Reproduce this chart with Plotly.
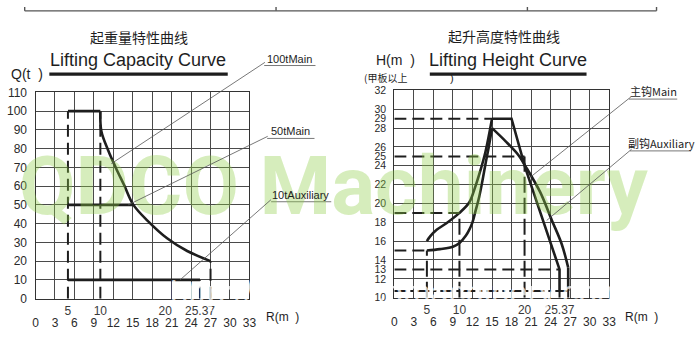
import plotly.graph_objects as go

W, H = 700, 344

# ---------------- data: lifting capacity (left panel) ----------------
R_TICKS = list(range(0, 34, 3))
R_MARKS = [5, 10, 20, 25.37]
R_MARK_TEXT = ["5", "10", "20", "25.37"]
Q_TICKS = list(range(0, 111, 10))

CAP100_FLAT_R = [5, 10]
CAP100_FLAT_Q = [100, 100]
CAP100_R = [10, 10.15, 11.2, 12.4, 13.7, 15.1, 17.3, 20.3, 23.4, 27]
CAP100_Q = [100, 89.4, 79.1, 69.7, 60.3, 50, 41.5, 32.2, 25.4, 20]
CAP50_R = [5, 15.1]
CAP50_Q = [50, 50]
CAP10_R = [5, 25.37]
CAP10_Q = [10, 10]

# vertical guide lines (radius, top load)
CAP_GUIDE_R = [5, 10, 25.37, 27]
CAP_GUIDE_Q = [100, 100, 10, 20]

# ---------------- data: lifting height (right panel) ----------------
H_GRID = list(range(10, 33, 2))
H_TICKS = [10, 12, 13, 14, 16, 18, 20, 22, 24, 25, 26, 28, 29, 30, 32]

AUX_RISE_R = [5, 5.5, 6.5, 8, 10, 11.5, 12.3, 13, 14, 15]
AUX_RISE_H = [16, 16.5, 17.2, 17.9, 19, 20.1, 21.5, 23, 25.5, 29]
AUX_FALL_R = [15, 18, 20.1, 21.2, 25.37, 25.37]
AUX_FALL_H = [29, 29, 23.8, 21.5, 13, 10.7]

MAIN_RISE_R = [5, 7, 9, 10, 11, 11.5, 12, 12.5, 13, 13.5, 14, 14.5, 15]
MAIN_RISE_H = [15, 15.15, 15.4, 15.8, 16.6, 17.2, 18, 19.3, 20.6, 22.3, 24.2, 26, 28]
MAIN_FALL_R = [15, 17.1, 19.1, 20.1, 22.4, 24.2, 25.7, 26.7]
MAIN_FALL_H = [28, 26.6, 25.1, 24, 21.2, 18.2, 15.7, 13.2]
MAIN_END_R = [26.7, 26.7]
MAIN_END_H = [13.2, 10.7]

# horizontal guides (height, end radius) and vertical guides (radius, top height)
HT_HGUIDE_H = [29, 25, 19, 15, 13]
HT_HGUIDE_R = [15, 20, 10, 5, 25.37]
HT_VGUIDE_R = [5, 10, 20, 25.37, 26.7]
HT_VGUIDE_H = [15, 19, 25, 10.7, 10.7]
HT_BASE_H = 10.7
HT_BASE_R = 26.7

SANS = "Liberation Sans, Arial, sans-serif"
CJK = "Noto Sans CJK SC, sans-serif"
INK = "#1e1e1e"
GRID = "#4a4a4a"

fig = go.Figure()


def solid(x, y, xa, ya, shape="linear", width=2.6):
    fig.add_trace(go.Scatter(x=x, y=y, xaxis=xa, yaxis=ya, mode="lines",
                             line=dict(color=INK, width=width, shape=shape,
                                       smoothing=1.0),
                             hoverinfo="skip"))


def dashed(x, y, xa, ya, dash="12px,6px", width=2.0):
    fig.add_trace(go.Scatter(x=x, y=y, xaxis=xa, yaxis=ya, mode="lines",
                             line=dict(color=INK, width=width, dash=dash),
                             hoverinfo="skip"))


# left panel guides (drawn on the overlay axis that carries the marked radii)
for r, q in zip(CAP_GUIDE_R, CAP_GUIDE_Q):
    dashed([r, r], [0, q], "x3", "y")
# left panel curves
solid(CAP100_FLAT_R, CAP100_FLAT_Q, "x", "y")
solid(CAP100_R, CAP100_Q, "x", "y", shape="spline")
solid(CAP50_R, CAP50_Q, "x", "y")
solid(CAP10_R, CAP10_Q, "x", "y")

# right panel guides (overlay axes carrying the marked radii and heights)
for h, r in zip(HT_HGUIDE_H, HT_HGUIDE_R):
    dashed([0, r], [h, h], "x4", "y4")
dashed([0, HT_BASE_R], [HT_BASE_H, HT_BASE_H], "x4", "y4",
       dash="12px,4px,3px,4px")
for r, h in zip(HT_VGUIDE_R, HT_VGUIDE_H):
    dashed([r, r], [10, h], "x4", "y4", dash="16px,5px")
# right panel curves
solid(AUX_RISE_R, AUX_RISE_H, "x2", "y2", shape="spline")
solid(AUX_FALL_R, AUX_FALL_H, "x2", "y2")
solid(MAIN_RISE_R, MAIN_RISE_H, "x2", "y2", shape="spline")
solid(MAIN_FALL_R, MAIN_FALL_H, "x2", "y2", shape="spline")
solid(MAIN_END_R, MAIN_END_H, "x2", "y2")


def px(x):
    return x / W


def py(y):
    return 1 - y / H


tickfont = dict(family=SANS, size=12, color="#2a2a2a")
htickfont = dict(family=SANS, size=10.5, color="#2a2a2a")
markfont = dict(family=SANS, size=12, color="#3a3a3a")
clear = "rgba(0,0,0,0)"

base_x = dict(range=[0, 33], tickvals=R_TICKS, showgrid=True, gridcolor=GRID,
              gridwidth=1, showline=True, mirror=True, linecolor="#333",
              linewidth=1.2, zeroline=False, ticks="outside", ticklen=13,
              tickcolor=clear, tickfont=tickfont)
mark_x = dict(range=[0, 33], tickvals=R_MARKS, ticktext=R_MARK_TEXT,
              showgrid=False, showline=False, zeroline=False, ticks="outside",
              ticklen=1, tickcolor=clear, tickfont=markfont, side="bottom")

fig.update_layout(
    width=W, height=H, margin=dict(l=0, r=0, t=0, b=0),
    paper_bgcolor="white", plot_bgcolor="white", showlegend=False,
    xaxis=dict(base_x, domain=[px(33), px(250)], anchor="y"),
    yaxis=dict(range=[0, 110], tickvals=Q_TICKS, domain=[py(304), py(89)],
               showgrid=True, gridcolor=GRID, gridwidth=1, showline=True,
               mirror=True, linecolor="#333", linewidth=1.2, zeroline=False,
               ticks="outside", ticklen=5, tickcolor=clear, tickfont=tickfont,
               anchor="x"),
    xaxis3=dict(mark_x, overlaying="x", anchor="y"),
    xaxis2=dict(base_x, domain=[px(397), px(615)], anchor="y2"),
    yaxis2=dict(range=[10, 32], tickvals=H_GRID, domain=[py(303), py(87)],
                showgrid=True, gridcolor=GRID, gridwidth=1, showline=True,
                mirror=True, linecolor="#333", linewidth=1.2, zeroline=False,
                showticklabels=False, anchor="x2"),
    yaxis4=dict(range=[10, 32], tickvals=H_TICKS, overlaying="y2", anchor="x4",
                side="left", showgrid=False, showline=False, zeroline=False,
                ticks="outside", ticklen=5, tickcolor=clear, tickfont=htickfont),
    xaxis4=dict(mark_x, overlaying="x2", anchor="y4"),
)

ann = []


def text(x, y, s, size, family=SANS, color=INK, xanchor="center"):
    ann.append(dict(x=px(x), y=py(y), xref="paper", yref="paper", text=s,
                    showarrow=False, xanchor=xanchor, yanchor="middle",
                    font=dict(family=family, size=size, color=color)))


# watermarks
ann.append(dict(x=px(335), y=py(187), xref="paper", yref="paper",
                text="QDCO Machinery", showarrow=False, yanchor="middle",
                font=dict(family="Roboto, Liberation Sans, sans-serif", size=82,
                          weight=700, color="rgba(140,205,70,0.36)")))
ann.append(dict(x=px(400), y=py(298), xref="paper", yref="paper",
                text="http://www.qdcomachinery.com", showarrow=False,
                yanchor="middle",
                font=dict(family=SANS, size=33, color="rgba(255,255,255,0.75)")))

# titles
text(138, 31, "起重量特性曲线", 14, family=CJK)
text(137, 55, "Lifting Capacity Curve", 18)
text(24, 70, "Q(t  )", 14)
text(508, 30, "起升高度特性曲线", 14, family=CJK)
text(398, 55, "H(m  )", 14)
text(512, 55, "Lifting Height Curve", 18)
text(388, 73, "(甲板以上", 10, family=CJK)
text(455, 74, ")", 11)

# axis unit labels
text(265, 323, "R(m  )", 12, xanchor="left")
text(629, 323, "R(m  )", 12, xanchor="left")

# curve labels
text(291, 54, "100tMain", 11)
text(292, 129, "50tMain", 11)
text(302, 196, "10tAuxiliary", 11)
text(660, 88, "主钩Main", 11, family=CJK)
text(668, 142, "副钩Auxiliary", 11, family=CJK)


def leader(xa, ya, x, y, tail_px, head_px):
    ann.append(dict(x=x, y=y, xref=xa, yref=ya, text="", showarrow=True,
                    arrowhead=0, arrowwidth=0.8, arrowcolor="#555",
                    standoff=0, startstandoff=0,
                    ax=tail_px[0] - head_px[0], ay=tail_px[1] - head_px[1]))


def cap_px(r, q):
    return (33 + r * 217 / 33, 304 - q * 215 / 110)


def ht_px(r, h):
    return (397 + r * 218 / 33, 303 - (h - 10) * 216 / 22)


leader("x", "y", 11.7, 72, (265, 61), cap_px(11.7, 72))
leader("x", "y", 14.3, 50, (268, 137), cap_px(14.3, 50))
leader("x", "y", 22.3, 10, (272, 203), cap_px(22.3, 10))
leader("x2", "y2", 20.9, 22.8, (637, 96), ht_px(20.9, 22.8))
leader("x2", "y2", 23.4, 18.2, (638, 150), ht_px(23.4, 18.2))

fig.update_layout(annotations=ann)

# heading underlines, label underlines and the table rule across the top
shapes = []


def hline(x0, x1, y, width, color=INK):
    shapes.append(dict(type="line", xref="paper", yref="paper", x0=px(x0),
                       x1=px(x1), y0=py(y), y1=py(y),
                       line=dict(color=color, width=width)))


def vline(x, y0, y1, width, color=INK):
    shapes.append(dict(type="line", xref="paper", yref="paper", x0=px(x),
                       x1=px(x), y0=py(y0), y1=py(y1),
                       line=dict(color=color, width=width)))


hline(47, 228, 70, 3.2)
hline(433, 592, 70, 3.2)
hline(265, 317, 61, 0.8, "#555")
hline(268, 316, 137, 0.8, "#555")
hline(272, 333, 203, 0.8, "#555")
hline(635, 684, 96, 0.8, "#555")
hline(636, 698, 150, 0.8, "#555")
hline(22, 663, 4, 1.4, "#555")
for xv in (22, 277, 532, 663):
    vline(xv, 0, 4, 1.4, "#555")

fig.update_layout(shapes=shapes)
fig.write_html("out.html")
